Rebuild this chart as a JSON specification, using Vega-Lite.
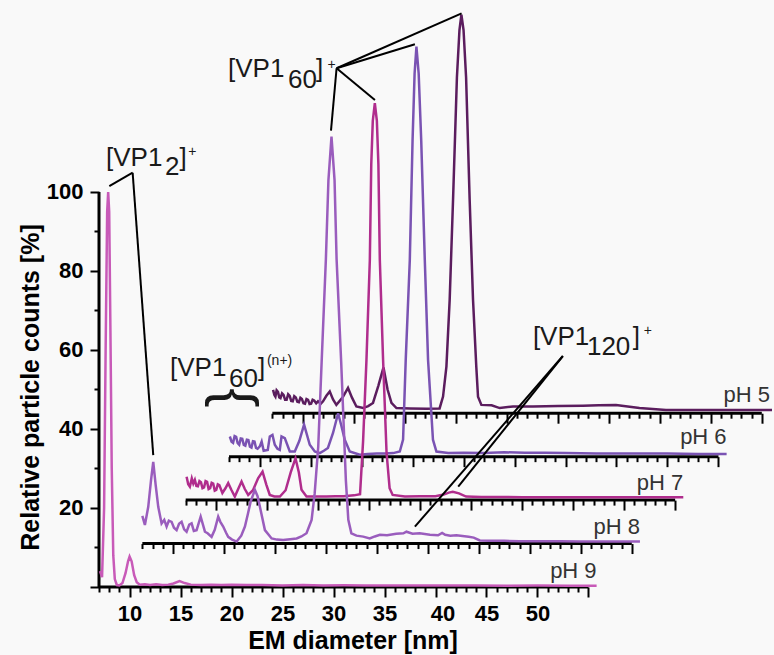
{
"$schema": "https://vega.github.io/schema/vega-lite/v6.json",
"width": 673, "height": 582,
"autosize": {"type": "none"},
"padding": {"left": 99, "top": 5, "right": 2, "bottom": 68},
"background": "#f9f9f9",
"config": {"view": {"stroke": null}, "axis": {"grid": false, "tickColor": "black", "tickWidth": 2, "labelFont": "Liberation Sans", "labelFontWeight": "bold", "labelColor": "black", "titleFont": "Liberation Sans", "titleFontWeight": "bold", "titleColor": "black"}, "text": {"font": "Liberation Sans"}},
"datasets": {
"frame": [{"kind":"base","d":7,"d2":55,"c":0,"c2":0},{"kind":"yaxis","d":7,"d2":7,"c":0,"c2":100}],
"tags": [{"pH":"pH 9","d":55.8,"c":4.0},{"pH":"pH 8","d":55.8,"c":4.3},{"pH":"pH 7","d":55.8,"c":4.3},{"pH":"pH 6","d":55.8,"c":5.1},{"pH":"pH 5","d":55.8,"c":4.7}],
"segs": [
{"d":8.01,"c":101.5,"d2":10.30,"c2":104.88},{"d":10.30,"c":104.88,"d2":12.32,"c2":33.4},
{"d":30.30,"c":131.32,"d2":29.75,"c2":115.52},{"d":30.30,"c":131.32,"d2":34.06,"c2":123.29},{"d":30.30,"c":131.32,"d2":37.98,"c2":137.39},{"d":30.30,"c":131.32,"d2":42.56,"c2":145.24},
{"d":52.49,"c":58.48,"d2":42.23,"c2":25.39},{"d":52.49,"c":58.48,"d2":37.98,"c2":15.27}],
"annot": [
{"part":"base","t":"[VP1","d":7.686,"c":106.46},{"part":"base","t":"2","d":13.47,"c":104.18},{"part":"base","t":"]","d":14.9,"c":106.46},{"part":"sup","t":"+","d":15.75,"c":109.11},
{"part":"base","t":"[VP1","d":19.65,"c":129.11},{"part":"base","t":"60","d":25.53,"c":126.33},{"part":"base","t":"]","d":28.28,"c":129.11},{"part":"sup","t":"+","d":29.4,"c":131.14},
{"part":"base","t":"[VP1","d":13.96,"c":53.54},{"part":"base","t":"60","d":19.75,"c":50.63},{"part":"base","t":"]","d":22.59,"c":53.54},{"part":"sup","t":"(n+)","d":23.47,"c":56.2},
{"part":"base","t":"[VP1","d":49.55,"c":61.27},{"part":"base","t":"120","d":54.85,"c":58.61},{"part":"base","t":"]","d":59.35,"c":61.27},{"part":"sup","t":"+","d":60.43,"c":63.8},
{"part":"brace","t":"{","d":20.2,"c":47.85}],
"traces": [
{"pH":"pH 9","d":7.1,"c":4},{"pH":"pH 9","d":7.3,"c":2.5},{"pH":"pH 9","d":7.5,"c":20},{"pH":"pH 9","d":7.65,"c":60},{"pH":"pH 9","d":7.8,"c":95},{"pH":"pH 9","d":7.9,"c":100},{"pH":"pH 9","d":8.0,"c":95},{"pH":"pH 9","d":8.12,"c":65},{"pH":"pH 9","d":8.25,"c":30},{"pH":"pH 9","d":8.4,"c":8},{"pH":"pH 9","d":8.55,"c":2},{"pH":"pH 9","d":8.75,"c":0.5},{"pH":"pH 9","d":9.0,"c":0.4},{"pH":"pH 9","d":9.3,"c":1},{"pH":"pH 9","d":9.6,"c":3.5},{"pH":"pH 9","d":9.85,"c":6.5},{"pH":"pH 9","d":10.0,"c":7.7},{"pH":"pH 9","d":10.2,"c":6.5},{"pH":"pH 9","d":10.45,"c":3},{"pH":"pH 9","d":10.7,"c":1.2},{"pH":"pH 9","d":11.0,"c":0.6},{"pH":"pH 9","d":11.5,"c":0.7},{"pH":"pH 9","d":12.0,"c":0.5},{"pH":"pH 9","d":12.6,"c":0.7},{"pH":"pH 9","d":13.2,"c":0.5},{"pH":"pH 9","d":13.8,"c":0.6},{"pH":"pH 9","d":14.3,"c":0.9},{"pH":"pH 9","d":14.9,"c":1.5},{"pH":"pH 9","d":15.4,"c":1.0},{"pH":"pH 9","d":16.0,"c":0.6},{"pH":"pH 9","d":17,"c":0.5},{"pH":"pH 9","d":18,"c":0.6},{"pH":"pH 9","d":19,"c":0.5},{"pH":"pH 9","d":20,"c":0.6},{"pH":"pH 9","d":21.5,"c":0.5},{"pH":"pH 9","d":23,"c":0.5},{"pH":"pH 9","d":25,"c":0.4},{"pH":"pH 9","d":27,"c":0.5},{"pH":"pH 9","d":29,"c":0.4},{"pH":"pH 9","d":31,"c":0.45},{"pH":"pH 9","d":33,"c":0.4},{"pH":"pH 9","d":35,"c":0.4},{"pH":"pH 9","d":38,"c":0.35},{"pH":"pH 9","d":41,"c":0.4},{"pH":"pH 9","d":44,"c":0.35},{"pH":"pH 9","d":47,"c":0.3},{"pH":"pH 9","d":50,"c":0.35},{"pH":"pH 9","d":53,"c":0.3},{"pH":"pH 9","d":55.8,"c":0.3},
{"pH":"pH 8","d":7.0,"c":7.0},{"pH":"pH 8","d":7.25,"c":4.7},{"pH":"pH 8","d":7.58,"c":9.3},{"pH":"pH 8","d":7.85,"c":16},{"pH":"pH 8","d":8.07,"c":20.7},{"pH":"pH 8","d":8.3,"c":15},{"pH":"pH 8","d":8.56,"c":9.3},{"pH":"pH 8","d":8.89,"c":5.1},{"pH":"pH 8","d":9.15,"c":6.0},{"pH":"pH 8","d":9.38,"c":4.3},{"pH":"pH 8","d":9.6,"c":5.8},{"pH":"pH 8","d":9.87,"c":5.5},{"pH":"pH 8","d":10.1,"c":4.0},{"pH":"pH 8","d":10.36,"c":3.4},{"pH":"pH 8","d":10.6,"c":5.0},{"pH":"pH 8","d":10.85,"c":5.5},{"pH":"pH 8","d":11.1,"c":3.6},{"pH":"pH 8","d":11.34,"c":3.0},{"pH":"pH 8","d":11.6,"c":4.8},{"pH":"pH 8","d":11.83,"c":5.1},{"pH":"pH 8","d":12.05,"c":3.2},{"pH":"pH 8","d":12.32,"c":3.4},{"pH":"pH 8","d":12.72,"c":6.8},{"pH":"pH 8","d":13.14,"c":3.0},{"pH":"pH 8","d":13.4,"c":2.6},{"pH":"pH 8","d":13.79,"c":1.7},{"pH":"pH 8","d":14.1,"c":3.5},{"pH":"pH 8","d":14.44,"c":6.8},{"pH":"pH 8","d":14.65,"c":5.5},{"pH":"pH 8","d":14.93,"c":4.3},{"pH":"pH 8","d":15.2,"c":2.8},{"pH":"pH 8","d":15.42,"c":1.7},{"pH":"pH 8","d":15.8,"c":1.0},{"pH":"pH 8","d":16.25,"c":0.5},{"pH":"pH 8","d":16.7,"c":2.0},{"pH":"pH 8","d":17.06,"c":4.3},{"pH":"pH 8","d":17.35,"c":7.5},{"pH":"pH 8","d":17.62,"c":10.6},{"pH":"pH 8","d":18.04,"c":13.6},{"pH":"pH 8","d":18.3,"c":12.0},{"pH":"pH 8","d":18.53,"c":9.3},{"pH":"pH 8","d":19.02,"c":3.4},{"pH":"pH 8","d":19.68,"c":1.3},{"pH":"pH 8","d":20.2,"c":1.0},{"pH":"pH 8","d":20.81,"c":0.9},{"pH":"pH 8","d":21.5,"c":1.1},{"pH":"pH 8","d":22.13,"c":1.3},{"pH":"pH 8","d":22.6,"c":1.8},{"pH":"pH 8","d":23.1,"c":2.6},{"pH":"pH 8","d":23.6,"c":6},{"pH":"pH 8","d":23.9,"c":12.7},{"pH":"pH 8","d":24.25,"c":24.5},{"pH":"pH 8","d":24.6,"c":47},{"pH":"pH 8","d":25.0,"c":72},{"pH":"pH 8","d":25.25,"c":92},{"pH":"pH 8","d":25.55,"c":103},{"pH":"pH 8","d":25.85,"c":92},{"pH":"pH 8","d":26.05,"c":72},{"pH":"pH 8","d":26.5,"c":46},{"pH":"pH 8","d":26.96,"c":16},{"pH":"pH 8","d":27.2,"c":6},{"pH":"pH 8","d":27.5,"c":2.6},{"pH":"pH 8","d":28.0,"c":2.0},{"pH":"pH 8","d":28.66,"c":1.75},{"pH":"pH 8","d":29.3,"c":1.3},{"pH":"pH 8","d":29.8,"c":1.8},{"pH":"pH 8","d":30.3,"c":2.2},{"pH":"pH 8","d":31.0,"c":2.1},{"pH":"pH 8","d":31.9,"c":2.5},{"pH":"pH 8","d":32.6,"c":2.6},{"pH":"pH 8","d":32.9,"c":3.0},{"pH":"pH 8","d":33.5,"c":2.5},{"pH":"pH 8","d":34.2,"c":2.6},{"pH":"pH 8","d":35.2,"c":2.2},{"pH":"pH 8","d":36.0,"c":2.1},{"pH":"pH 8","d":36.4,"c":2.7},{"pH":"pH 8","d":36.7,"c":2.2},{"pH":"pH 8","d":37.2,"c":2.0},{"pH":"pH 8","d":37.8,"c":2.1},{"pH":"pH 8","d":38.4,"c":1.9},{"pH":"pH 8","d":39.0,"c":1.7},{"pH":"pH 8","d":39.5,"c":1.5},{"pH":"pH 8","d":40.1,"c":0.8},{"pH":"pH 8","d":41,"c":0.7},{"pH":"pH 8","d":42.5,"c":0.7},{"pH":"pH 8","d":44,"c":0.6},{"pH":"pH 8","d":46,"c":0.6},{"pH":"pH 8","d":48,"c":0.6},{"pH":"pH 8","d":50,"c":0.55},{"pH":"pH 8","d":52,"c":0.5},{"pH":"pH 8","d":54,"c":0.5},{"pH":"pH 8","d":55.8,"c":0.5},
{"pH":"pH 7","d":7.09,"c":5.9},{"pH":"pH 7","d":7.25,"c":4.0},{"pH":"pH 7","d":7.41,"c":3.4},{"pH":"pH 7","d":7.6,"c":5.5},{"pH":"pH 7","d":7.75,"c":4.2},{"pH":"pH 7","d":7.9,"c":5.1},{"pH":"pH 7","d":8.05,"c":3.6},{"pH":"pH 7","d":8.2,"c":3.5},{"pH":"pH 7","d":8.35,"c":4.8},{"pH":"pH 7","d":8.5,"c":4.5},{"pH":"pH 7","d":8.65,"c":3.0},{"pH":"pH 7","d":8.8,"c":3.2},{"pH":"pH 7","d":8.95,"c":4.8},{"pH":"pH 7","d":9.1,"c":4.6},{"pH":"pH 7","d":9.25,"c":2.8},{"pH":"pH 7","d":9.4,"c":3.0},{"pH":"pH 7","d":9.55,"c":4.4},{"pH":"pH 7","d":9.7,"c":4.2},{"pH":"pH 7","d":9.85,"c":2.4},{"pH":"pH 7","d":10.0,"c":2.6},{"pH":"pH 7","d":10.15,"c":4.0},{"pH":"pH 7","d":10.3,"c":3.8},{"pH":"pH 7","d":10.6,"c":1.8},{"pH":"pH 7","d":10.9,"c":3.0},{"pH":"pH 7","d":11.17,"c":4.3},{"pH":"pH 7","d":11.5,"c":2.5},{"pH":"pH 7","d":11.82,"c":0.9},{"pH":"pH 7","d":12.15,"c":2.8},{"pH":"pH 7","d":12.48,"c":4.7},{"pH":"pH 7","d":12.8,"c":2.8},{"pH":"pH 7","d":13.13,"c":1.3},{"pH":"pH 7","d":13.6,"c":2.5},{"pH":"pH 7","d":14.1,"c":5.5},{"pH":"pH 7","d":14.54,"c":7.2},{"pH":"pH 7","d":14.9,"c":4.0},{"pH":"pH 7","d":15.25,"c":1.3},{"pH":"pH 7","d":15.7,"c":0.9},{"pH":"pH 7","d":16.24,"c":0.9},{"pH":"pH 7","d":16.8,"c":2.5},{"pH":"pH 7","d":17.3,"c":7.0},{"pH":"pH 7","d":17.77,"c":10.6},{"pH":"pH 7","d":18.1,"c":7.0},{"pH":"pH 7","d":18.36,"c":2.6},{"pH":"pH 7","d":18.85,"c":0.9},{"pH":"pH 7","d":19.8,"c":0.9},{"pH":"pH 7","d":20.8,"c":0.9},{"pH":"pH 7","d":21.7,"c":1.0},{"pH":"pH 7","d":22.5,"c":1.0},{"pH":"pH 7","d":23.5,"c":1.2},{"pH":"pH 7","d":24.1,"c":1.5},{"pH":"pH 7","d":24.4,"c":15},{"pH":"pH 7","d":24.73,"c":35.5},{"pH":"pH 7","d":25.06,"c":60.8},{"pH":"pH 7","d":25.2,"c":85},{"pH":"pH 7","d":25.35,"c":96},{"pH":"pH 7","d":25.55,"c":100.5},{"pH":"pH 7","d":25.75,"c":96},{"pH":"pH 7","d":25.9,"c":85},{"pH":"pH 7","d":26.04,"c":60.8},{"pH":"pH 7","d":26.36,"c":35.5},{"pH":"pH 7","d":26.7,"c":12},{"pH":"pH 7","d":27.0,"c":3},{"pH":"pH 7","d":27.3,"c":1.3},{"pH":"pH 7","d":28.5,"c":0.9},{"pH":"pH 7","d":30.0,"c":1.0},{"pH":"pH 7","d":31.5,"c":1.0},{"pH":"pH 7","d":32.3,"c":1.4},{"pH":"pH 7","d":32.8,"c":1.9},{"pH":"pH 7","d":33.2,"c":2.1},{"pH":"pH 7","d":33.8,"c":1.7},{"pH":"pH 7","d":34.5,"c":0.9},{"pH":"pH 7","d":36.0,"c":0.8},{"pH":"pH 7","d":38,"c":0.8},{"pH":"pH 7","d":40,"c":0.7},{"pH":"pH 7","d":43,"c":0.7},{"pH":"pH 7","d":46,"c":0.7},{"pH":"pH 7","d":50,"c":0.7},{"pH":"pH 7","d":53,"c":0.7},{"pH":"pH 7","d":55.8,"c":0.7},
{"pH":"pH 6","d":7.08,"c":5.1},{"pH":"pH 6","d":7.25,"c":3.8},{"pH":"pH 6","d":7.4,"c":3.5},{"pH":"pH 6","d":7.55,"c":5.2},{"pH":"pH 6","d":7.7,"c":5.0},{"pH":"pH 6","d":7.85,"c":3.4},{"pH":"pH 6","d":8.0,"c":3.0},{"pH":"pH 6","d":8.15,"c":4.6},{"pH":"pH 6","d":8.3,"c":4.5},{"pH":"pH 6","d":8.45,"c":3.0},{"pH":"pH 6","d":8.6,"c":2.8},{"pH":"pH 6","d":8.75,"c":4.3},{"pH":"pH 6","d":8.9,"c":4.2},{"pH":"pH 6","d":9.05,"c":2.5},{"pH":"pH 6","d":9.2,"c":2.3},{"pH":"pH 6","d":9.35,"c":3.9},{"pH":"pH 6","d":9.5,"c":3.8},{"pH":"pH 6","d":9.65,"c":2.2},{"pH":"pH 6","d":9.8,"c":2.0},{"pH":"pH 6","d":10.02,"c":2.6},{"pH":"pH 6","d":10.2,"c":3.8},{"pH":"pH 6","d":10.4,"c":1.5},{"pH":"pH 6","d":10.8,"c":1.7},{"pH":"pH 6","d":11.0,"c":5.1},{"pH":"pH 6","d":11.26,"c":5.5},{"pH":"pH 6","d":11.49,"c":3.0},{"pH":"pH 6","d":11.75,"c":2.0},{"pH":"pH 6","d":11.98,"c":1.7},{"pH":"pH 6","d":12.15,"c":5.1},{"pH":"pH 6","d":12.47,"c":4.7},{"pH":"pH 6","d":12.96,"c":1.3},{"pH":"pH 6","d":13.45,"c":1.3},{"pH":"pH 6","d":13.9,"c":4.0},{"pH":"pH 6","d":14.36,"c":8.1},{"pH":"pH 6","d":14.92,"c":3.0},{"pH":"pH 6","d":15.41,"c":1.3},{"pH":"pH 6","d":15.9,"c":0.9},{"pH":"pH 6","d":16.3,"c":1.5},{"pH":"pH 6","d":16.7,"c":2.2},{"pH":"pH 6","d":17.2,"c":6.0},{"pH":"pH 6","d":17.7,"c":11.0},{"pH":"pH 6","d":18.0,"c":8.0},{"pH":"pH 6","d":18.35,"c":4.3},{"pH":"pH 6","d":18.84,"c":1.3},{"pH":"pH 6","d":19.82,"c":0.5},{"pH":"pH 6","d":20.6,"c":0.7},{"pH":"pH 6","d":21.5,"c":0.8},{"pH":"pH 6","d":22.3,"c":0.8},{"pH":"pH 6","d":23.1,"c":0.9},{"pH":"pH 6","d":23.75,"c":1.3},{"pH":"pH 6","d":24.07,"c":4.3},{"pH":"pH 6","d":24.33,"c":24.5},{"pH":"pH 6","d":24.73,"c":49.8},{"pH":"pH 6","d":25.0,"c":80},{"pH":"pH 6","d":25.2,"c":97},{"pH":"pH 6","d":25.38,"c":103.8},{"pH":"pH 6","d":25.6,"c":97},{"pH":"pH 6","d":25.85,"c":80},{"pH":"pH 6","d":26.2,"c":49.8},{"pH":"pH 6","d":26.52,"c":24.5},{"pH":"pH 6","d":27.0,"c":4.3},{"pH":"pH 6","d":27.34,"c":1.3},{"pH":"pH 6","d":28.5,"c":0.9},{"pH":"pH 6","d":30,"c":1.0},{"pH":"pH 6","d":32,"c":0.9},{"pH":"pH 6","d":34,"c":1.1},{"pH":"pH 6","d":36,"c":1.0},{"pH":"pH 6","d":38,"c":1.0},{"pH":"pH 6","d":40,"c":0.9},{"pH":"pH 6","d":43,"c":0.8},{"pH":"pH 6","d":46,"c":0.8},{"pH":"pH 6","d":50,"c":0.8},{"pH":"pH 6","d":53,"c":0.7},{"pH":"pH 6","d":55.8,"c":0.7},
{"pH":"pH 5","d":7.07,"c":5.9},{"pH":"pH 5","d":7.2,"c":4.6},{"pH":"pH 5","d":7.3,"c":4.2},{"pH":"pH 5","d":7.42,"c":5.8},{"pH":"pH 5","d":7.55,"c":5.4},{"pH":"pH 5","d":7.68,"c":4.0},{"pH":"pH 5","d":7.8,"c":3.8},{"pH":"pH 5","d":7.95,"c":5.0},{"pH":"pH 5","d":8.1,"c":4.6},{"pH":"pH 5","d":8.25,"c":3.4},{"pH":"pH 5","d":8.4,"c":3.4},{"pH":"pH 5","d":8.55,"c":4.8},{"pH":"pH 5","d":8.7,"c":4.4},{"pH":"pH 5","d":8.85,"c":3.1},{"pH":"pH 5","d":9.0,"c":3.0},{"pH":"pH 5","d":9.15,"c":4.3},{"pH":"pH 5","d":9.3,"c":4.0},{"pH":"pH 5","d":9.45,"c":2.9},{"pH":"pH 5","d":9.6,"c":2.8},{"pH":"pH 5","d":9.75,"c":3.9},{"pH":"pH 5","d":9.9,"c":3.6},{"pH":"pH 5","d":10.05,"c":2.5},{"pH":"pH 5","d":10.2,"c":2.4},{"pH":"pH 5","d":10.35,"c":3.6},{"pH":"pH 5","d":10.5,"c":3.4},{"pH":"pH 5","d":10.65,"c":2.3},{"pH":"pH 5","d":10.8,"c":2.4},{"pH":"pH 5","d":10.95,"c":3.4},{"pH":"pH 5","d":11.1,"c":3.2},{"pH":"pH 5","d":11.3,"c":2.5},{"pH":"pH 5","d":11.48,"c":3.0},{"pH":"pH 5","d":11.75,"c":2.4},{"pH":"pH 5","d":11.97,"c":3.0},{"pH":"pH 5","d":12.3,"c":4.4},{"pH":"pH 5","d":12.63,"c":5.5},{"pH":"pH 5","d":12.95,"c":3.5},{"pH":"pH 5","d":13.28,"c":2.1},{"pH":"pH 5","d":13.9,"c":4.0},{"pH":"pH 5","d":14.42,"c":6.4},{"pH":"pH 5","d":14.8,"c":4.0},{"pH":"pH 5","d":15.24,"c":1.7},{"pH":"pH 5","d":15.9,"c":1.3},{"pH":"pH 5","d":16.4,"c":1.8},{"pH":"pH 5","d":16.87,"c":2.6},{"pH":"pH 5","d":17.4,"c":7.0},{"pH":"pH 5","d":17.9,"c":11.6},{"pH":"pH 5","d":18.3,"c":6.0},{"pH":"pH 5","d":18.68,"c":2.6},{"pH":"pH 5","d":19.17,"c":1.3},{"pH":"pH 5","d":20.5,"c":1.2},{"pH":"pH 5","d":22.1,"c":1.1},{"pH":"pH 5","d":23.4,"c":1.2},{"pH":"pH 5","d":23.74,"c":4.2},{"pH":"pH 5","d":24.07,"c":11.8},{"pH":"pH 5","d":24.39,"c":28.7},{"pH":"pH 5","d":24.72,"c":54},{"pH":"pH 5","d":25.1,"c":85},{"pH":"pH 5","d":25.35,"c":97},{"pH":"pH 5","d":25.54,"c":100.9},{"pH":"pH 5","d":25.75,"c":97},{"pH":"pH 5","d":26.0,"c":85},{"pH":"pH 5","d":26.35,"c":54},{"pH":"pH 5","d":26.68,"c":28.7},{"pH":"pH 5","d":27.0,"c":11.8},{"pH":"pH 5","d":27.17,"c":4.2},{"pH":"pH 5","d":27.5,"c":2.1},{"pH":"pH 5","d":28.5,"c":2.0},{"pH":"pH 5","d":29.3,"c":1.3},{"pH":"pH 5","d":30.6,"c":1.7},{"pH":"pH 5","d":32.56,"c":1.7},{"pH":"pH 5","d":35,"c":1.8},{"pH":"pH 5","d":37.46,"c":1.9},{"pH":"pH 5","d":39,"c":2.0},{"pH":"pH 5","d":40.7,"c":2.1},{"pH":"pH 5","d":43.0,"c":1.3},{"pH":"pH 5","d":45.6,"c":0.8},{"pH":"pH 5","d":48.9,"c":0.8},{"pH":"pH 5","d":52.2,"c":0.8},{"pH":"pH 5","d":56.0,"c":0.8}
]},
"resolve": {"scale": {"x": "independent", "y": "independent"}, "axis": {"x": "independent", "y": "independent"}},
"layer": [
{
"encoding": {
"x": {"field": "d", "type": "quantitative", "scale": {"domain": [-10, 56], "nice": false, "zero": false}, "axis": {"orient": "bottom", "offset": -173.8, "values": [7,8,9,10,11,12,13,14,15,16,17,18,19,20,21,22,23,24,25,26,27,28,29,30,31,32,33,34,35,36,37,38,39,40,41,42,43,44,45,46,47,48,49,50,51,52,53,54,55], "labels": false, "domain": false, "title": null, "tickSize": {"condition": {"test": "datum.value % 5 === 0", "value": 10}, "value": 5}}},
"y": {"field": "c", "type": "quantitative", "scale": {"domain": [-44, 103.34], "nice": false, "zero": false}, "axis": null}
},
"layer": [
{"data": {"name": "frame"}, "transform": [{"filter": "datum.kind === 'base'"}], "mark": {"type": "rule", "color": "black", "strokeWidth": 3}, "encoding": {"x2": {"field": "d2"}, "y2": {"field": "c2"}}},
{"data": {"name": "traces"}, "transform": [{"filter": "datum.pH === 'pH 5'"}], "mark": {"type": "line", "color": "#5b1d5e", "strokeWidth": 2.5}},
{"data": {"name": "tags"}, "transform": [{"filter": "datum.pH === 'pH 5'"}], "mark": {"type": "text", "align": "right", "baseline": "middle", "fontSize": 22, "color": "#333333"}, "encoding": {"text": {"field": "pH"}}}
]
},
{
"encoding": {
"x": {"field": "d", "type": "quantitative", "scale": {"domain": [-5.75, 60.25], "nice": false, "zero": false}, "axis": {"orient": "bottom", "offset": -130.35, "values": [7,8,9,10,11,12,13,14,15,16,17,18,19,20,21,22,23,24,25,26,27,28,29,30,31,32,33,34,35,36,37,38,39,40,41,42,43,44,45,46,47,48,49,50,51,52,53,54,55], "labels": false, "domain": false, "title": null, "tickSize": {"condition": {"test": "datum.value % 5 === 0", "value": 10}, "value": 5}}},
"y": {"field": "c", "type": "quantitative", "scale": {"domain": [-33, 114.34], "nice": false, "zero": false}, "axis": null}
},
"layer": [
{"data": {"name": "frame"}, "transform": [{"filter": "datum.kind === 'base'"}], "mark": {"type": "rule", "color": "black", "strokeWidth": 3}, "encoding": {"x2": {"field": "d2"}, "y2": {"field": "c2"}}},
{"data": {"name": "traces"}, "transform": [{"filter": "datum.pH === 'pH 6'"}], "mark": {"type": "line", "color": "#7a53b3", "strokeWidth": 2.5}},
{"data": {"name": "tags"}, "transform": [{"filter": "datum.pH === 'pH 6'"}], "mark": {"type": "text", "align": "right", "baseline": "middle", "fontSize": 22, "color": "#333333"}, "encoding": {"text": {"field": "pH"}}}
]
},
{
"encoding": {
"x": {"field": "d", "type": "quantitative", "scale": {"domain": [-1.5, 64.5], "nice": false, "zero": false}, "axis": {"orient": "bottom", "offset": -86.9, "values": [7,8,9,10,11,12,13,14,15,16,17,18,19,20,21,22,23,24,25,26,27,28,29,30,31,32,33,34,35,36,37,38,39,40,41,42,43,44,45,46,47,48,49,50,51,52,53,54,55], "labels": false, "domain": false, "title": null, "tickSize": {"condition": {"test": "datum.value % 5 === 0", "value": 10}, "value": 5}}},
"y": {"field": "c", "type": "quantitative", "scale": {"domain": [-22, 125.34], "nice": false, "zero": false}, "axis": null}
},
"layer": [
{"data": {"name": "frame"}, "transform": [{"filter": "datum.kind === 'base'"}], "mark": {"type": "rule", "color": "black", "strokeWidth": 3}, "encoding": {"x2": {"field": "d2"}, "y2": {"field": "c2"}}},
{"data": {"name": "traces"}, "transform": [{"filter": "datum.pH === 'pH 7'"}], "mark": {"type": "line", "color": "#b02d8d", "strokeWidth": 2.5}},
{"data": {"name": "tags"}, "transform": [{"filter": "datum.pH === 'pH 7'"}], "mark": {"type": "text", "align": "right", "baseline": "middle", "fontSize": 22, "color": "#333333"}, "encoding": {"text": {"field": "pH"}}}
]
},
{
"encoding": {
"x": {"field": "d", "type": "quantitative", "scale": {"domain": [2.75, 68.75], "nice": false, "zero": false}, "axis": {"orient": "bottom", "offset": -43.45, "values": [7,8,9,10,11,12,13,14,15,16,17,18,19,20,21,22,23,24,25,26,27,28,29,30,31,32,33,34,35,36,37,38,39,40,41,42,43,44,45,46,47,48,49,50,51,52,53,54,55], "labels": false, "domain": false, "title": null, "tickSize": {"condition": {"test": "datum.value % 5 === 0", "value": 10}, "value": 5}}},
"y": {"field": "c", "type": "quantitative", "scale": {"domain": [-11, 136.34], "nice": false, "zero": false}, "axis": null}
},
"layer": [
{"data": {"name": "frame"}, "transform": [{"filter": "datum.kind === 'base'"}], "mark": {"type": "rule", "color": "black", "strokeWidth": 3}, "encoding": {"x2": {"field": "d2"}, "y2": {"field": "c2"}}},
{"data": {"name": "traces"}, "transform": [{"filter": "datum.pH === 'pH 8'"}], "mark": {"type": "line", "color": "#9a5dbd", "strokeWidth": 2.5}},
{"data": {"name": "tags"}, "transform": [{"filter": "datum.pH === 'pH 8'"}], "mark": {"type": "text", "align": "right", "baseline": "middle", "fontSize": 22, "color": "#333333"}, "encoding": {"text": {"field": "pH"}}}
]
},
{
"encoding": {
"x": {"field": "d", "type": "quantitative", "scale": {"domain": [7, 73], "nice": false, "zero": false}, "axis": {"orient": "bottom", "values": [7,8,9,10,11,12,13,14,15,16,17,18,19,20,21,22,23,24,25,26,27,28,29,30,31,32,33,34,35,36,37,38,39,40,41,42,43,44,45,46,47,48,49,50,51,52,53,54,55], "domain": false, "tickSize": {"condition": {"test": "datum.value % 5 === 0", "value": 10}, "value": 5}, "labelExpr": "datum.value % 5 === 0 && datum.value >= 10 && datum.value <= 50 ? datum.label : ''", "labelFontSize": 22, "labelPadding": 6, "labelOverlap": false, "labelFlush": false, "labelBound": false, "labelOffset": {"condition": {"test": "datum.value === 40", "value": 7}, "value": 0}, "title": "EM diameter [nm]", "titleFontSize": 25, "titleX": 253.5, "titleY": 53, "titleBaseline": "middle", "titleAlign": "center"}},
"y": {"field": "c", "type": "quantitative", "scale": {"domain": [0, 147.34], "nice": false, "zero": false}, "axis": {"orient": "left", "values": [0,10,20,30,40,50,60,70,80,90,100], "domain": false, "tickSize": {"condition": {"test": "datum.value % 20 === 0", "value": 9}, "value": 5}, "labelExpr": "datum.value % 20 === 0 && datum.value > 0 ? datum.label : ''", "labelFontSize": 22, "labelPadding": 7, "title": "Relative particle counts [%]", "titleFontSize": 25, "titleX": -69, "titleY": 382, "titleAngle": -90, "titleBaseline": "middle", "titleAlign": "center"}}
},
"layer": [
{"data": {"name": "frame"}, "mark": {"type": "rule", "color": "black", "strokeWidth": 3}, "encoding": {"x2": {"field": "d2"}, "y2": {"field": "c2"}}},
{"data": {"name": "traces"}, "transform": [{"filter": "datum.pH === 'pH 9'"}], "mark": {"type": "line", "color": "#c85ab8", "strokeWidth": 2.5}},
{"data": {"name": "tags"}, "transform": [{"filter": "datum.pH === 'pH 9'"}], "mark": {"type": "text", "align": "right", "baseline": "middle", "fontSize": 22, "color": "#333333"}, "encoding": {"text": {"field": "pH"}}},
{"data": {"name": "segs"}, "mark": {"type": "rule", "color": "black", "strokeWidth": 2}, "encoding": {"x2": {"field": "d2"}, "y2": {"field": "c2"}}},
{"data": {"name": "annot"}, "transform": [{"filter": "datum.part === 'base'"}], "mark": {"type": "text", "align": "left", "baseline": "alphabetic", "fontSize": 26, "color": "#1a1a1a"}, "encoding": {"text": {"field": "t"}}},
{"data": {"name": "annot"}, "transform": [{"filter": "datum.part === 'sup'"}], "mark": {"type": "text", "align": "left", "baseline": "alphabetic", "fontSize": 14, "color": "#1a1a1a"}, "encoding": {"text": {"field": "t"}}},
{"data": {"name": "annot"}, "transform": [{"filter": "datum.part === 'brace'"}], "mark": {"type": "text", "align": "center", "baseline": "middle", "fontSize": 58, "angle": 90, "color": "#1a1a1a"}, "encoding": {"text": {"field": "t"}}}
]
}
]
}
